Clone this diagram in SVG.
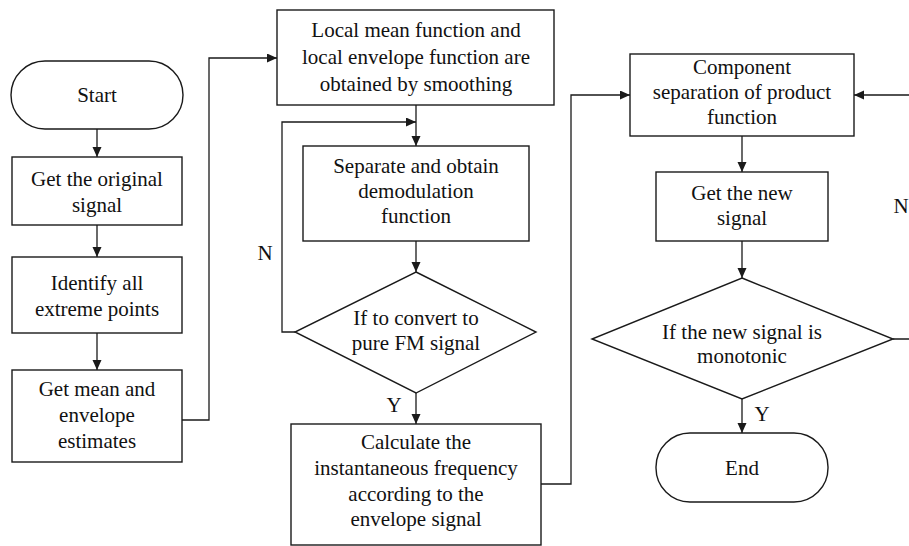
<svg xmlns="http://www.w3.org/2000/svg" width="909" height="546" viewBox="0 0 909 546" font-family="'Liberation Serif', Tinos, 'Times New Roman', Times, 'DejaVu Serif', serif">
  <style>
    .shape { fill: #ffffff; stroke: #1a1a1a; stroke-width: 1.4; }
    .wire { fill: none; stroke: #1a1a1a; stroke-width: 1.3; }
    text { font-family: 'Liberation Serif', Tinos, 'Times New Roman', Times, 'DejaVu Serif', serif; font-size: 21px; fill: #111111; text-anchor: middle; }
  </style>
  <defs>
    <marker id="arrow" markerUnits="userSpaceOnUse" markerWidth="11" markerHeight="10" refX="10" refY="4.5" orient="auto">
      <path d="M0,0 L10,4.5 L0,9 Z" fill="#1a1a1a"/>
    </marker>
  </defs>
  <rect width="909" height="546" fill="#ffffff"/>

  <!-- connectors -->
  <g id="connectors">
    <path class="wire" d="M97,129 V157" marker-end="url(#arrow)"/>
    <path class="wire" d="M97,225 V257" marker-end="url(#arrow)"/>
    <path class="wire" d="M97,333 V370" marker-end="url(#arrow)"/>
    <path class="wire" d="M182,420 H209 V58 H277" marker-end="url(#arrow)"/>
    <path class="wire" d="M416,105 V146" marker-end="url(#arrow)"/>
    <path class="wire" d="M295,332 H282 V122 H416" marker-end="url(#arrow)"/>
    <path class="wire" d="M416,241 V272" marker-end="url(#arrow)"/>
    <path class="wire" d="M416,393 V424" marker-end="url(#arrow)"/>
    <path class="wire" d="M541,484 H571 V95 H630" marker-end="url(#arrow)"/>
    <path class="wire" d="M742,136 V172" marker-end="url(#arrow)"/>
    <path class="wire" d="M742,241 V278" marker-end="url(#arrow)"/>
    <path class="wire" d="M742,399 V433" marker-end="url(#arrow)"/>
    <path class="wire" d="M893,339 H914 V95 H854" marker-end="url(#arrow)"/>
    <text x="265" y="260">N</text>
    <text x="394" y="412">Y</text>
    <text x="762" y="421">Y</text>
    <text x="901" y="213">N</text>
  </g>

  <!-- left column -->
  <g id="start">
    <rect class="shape" x="11" y="61" width="172" height="68" rx="34" ry="34"/>
    <text x="97" y="102">Start</text>
  </g>
  <g id="get-original-signal">
    <rect class="shape" x="12" y="157" width="170" height="68"/>
    <text x="97" y="186">Get the original</text>
    <text x="97" y="212">signal</text>
  </g>
  <g id="identify-extreme-points">
    <rect class="shape" x="12" y="257" width="170" height="76"/>
    <text x="97" y="290">Identify all</text>
    <text x="97" y="316">extreme points</text>
  </g>
  <g id="mean-envelope-estimates">
    <rect class="shape" x="12" y="370" width="170" height="92"/>
    <text x="97" y="396">Get mean and</text>
    <text x="97" y="422">envelope</text>
    <text x="97" y="448">estimates</text>
  </g>

  <!-- middle column -->
  <g id="smoothing">
    <rect class="shape" x="277" y="10" width="277" height="95"/>
    <text x="416" y="37">Local mean function and</text>
    <text x="416" y="64">local envelope function are</text>
    <text x="416" y="91">obtained by smoothing</text>
  </g>
  <g id="demodulation">
    <rect class="shape" x="303" y="146" width="226" height="95"/>
    <text x="416" y="173">Separate and obtain</text>
    <text x="416" y="198">demodulation</text>
    <text x="416" y="223">function</text>
  </g>
  <g id="pure-fm-check">
    <polygon class="shape" points="416,272 536,332 416,393 295,332"/>
    <text x="416" y="325">If to convert to</text>
    <text x="416" y="350">pure FM signal</text>
  </g>
  <g id="instantaneous-frequency">
    <rect class="shape" x="291" y="424" width="250" height="121"/>
    <text x="416" y="449">Calculate the</text>
    <text x="416" y="475">instantaneous frequency</text>
    <text x="416" y="501">according to the</text>
    <text x="416" y="526">envelope signal</text>
  </g>

  <!-- right column -->
  <g id="component-separation">
    <rect class="shape" x="630" y="54" width="224" height="82"/>
    <text x="742" y="74">Component</text>
    <text x="742" y="99">separation of product</text>
    <text x="742" y="124">function</text>
  </g>
  <g id="new-signal">
    <rect class="shape" x="656" y="172" width="172" height="69"/>
    <text x="742" y="200">Get the new</text>
    <text x="742" y="225">signal</text>
  </g>
  <g id="monotonic-check">
    <polygon class="shape" points="742,278 893,339 742,399 592,339"/>
    <text x="742" y="339">If the new signal is</text>
    <text x="742" y="363">monotonic</text>
  </g>
  <g id="end">
    <rect class="shape" x="656" y="433" width="172" height="69" rx="34" ry="34"/>
    <text x="742" y="475">End</text>
  </g>
</svg>
